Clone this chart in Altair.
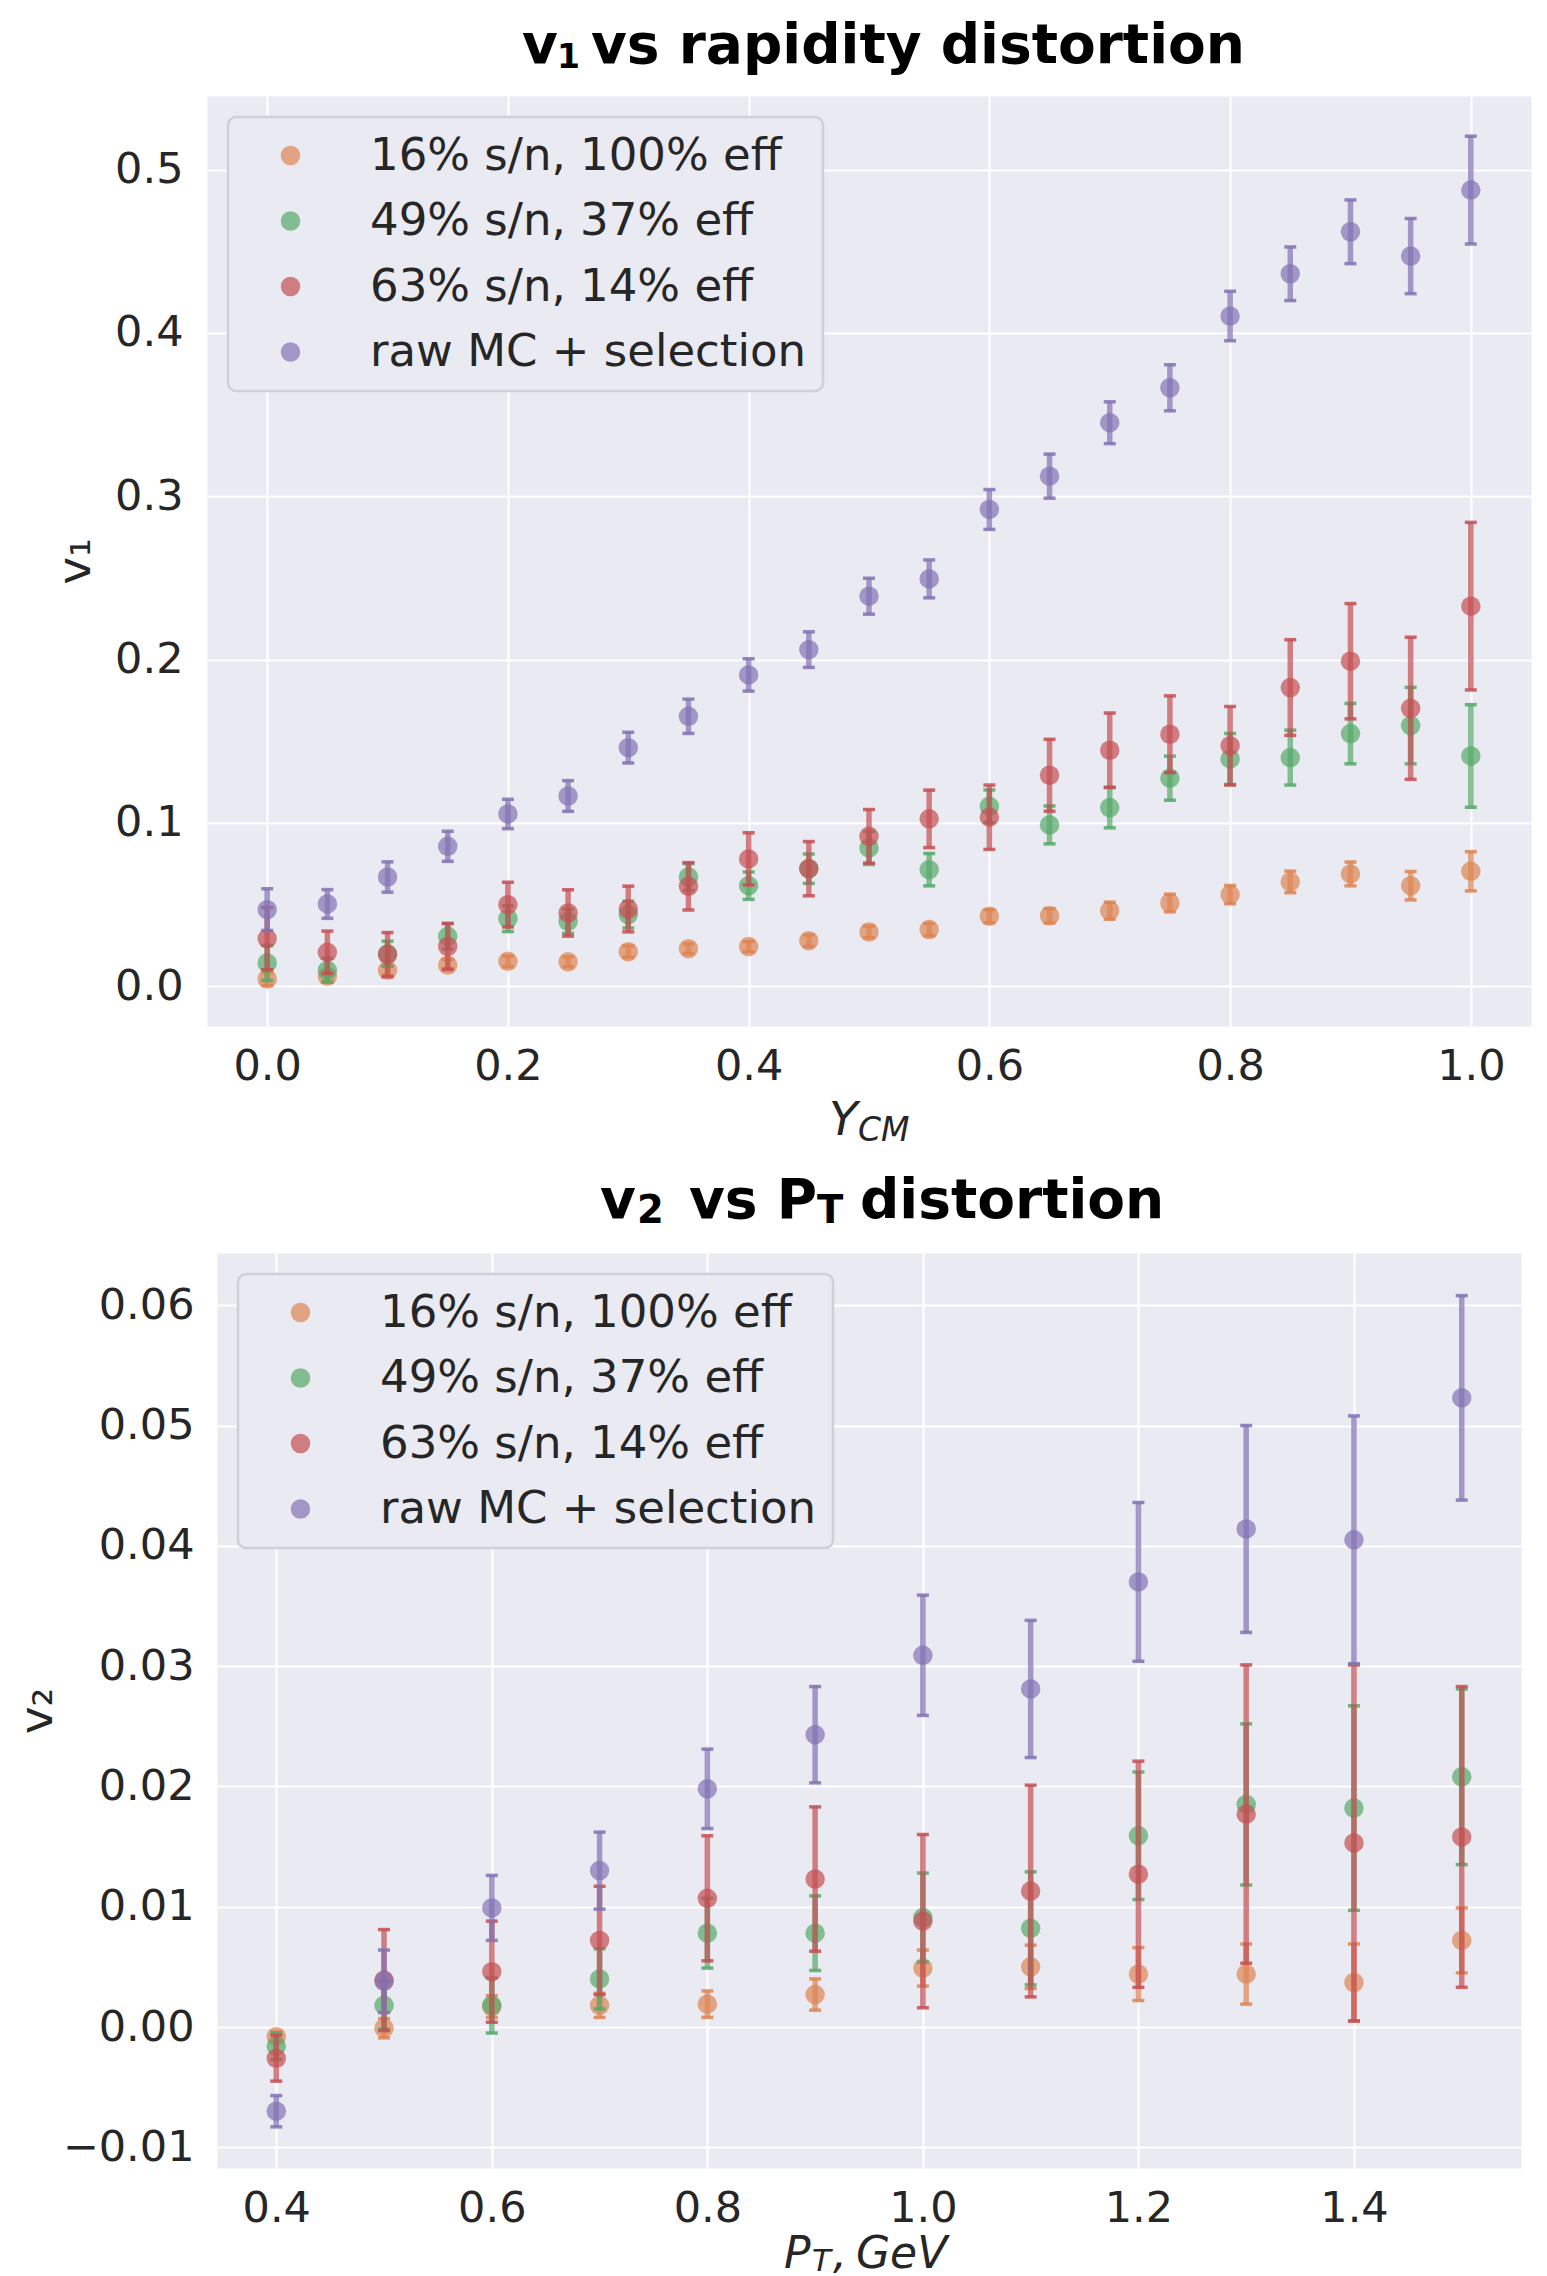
import altair as alt
import pandas as pd

labels = ["16% s/n, 100% eff", "49% s/n, 37% eff", "63% s/n, 14% eff", "raw MC + selection"]
colors = ["#DD8452", "#55A868", "#C44E52", "#8172B3"]

# ---- top panel: v1 vs rapidity ----
y_cm = [0.0, 0.05, 0.1, 0.15, 0.2, 0.25, 0.3, 0.35, 0.4, 0.45, 0.5,
        0.55, 0.6, 0.65, 0.7, 0.75, 0.8, 0.85, 0.9, 0.95, 1.0]
v1_orange = [0.0045, 0.0061, 0.0098, 0.0130, 0.0153, 0.0150, 0.0212, 0.0230, 0.0243, 0.0279, 0.0333,
             0.0347, 0.0429, 0.0432, 0.0463, 0.0510, 0.0561, 0.0639, 0.0688, 0.0616, 0.0704]
v1_orange_err = [0.0040, 0.0030, 0.0030, 0.0033, 0.0033, 0.0031, 0.0035, 0.0030, 0.0032, 0.0035, 0.0036,
                 0.0038, 0.0040, 0.0044, 0.0052, 0.0054, 0.0056, 0.0066, 0.0073, 0.0087, 0.0120]
v1_green = [0.0143, 0.0098, 0.0199, 0.0306, 0.0414, 0.0398, 0.0439, 0.0669, 0.0616, 0.0720, 0.0847,
            0.0714, 0.1102, 0.0988, 0.1094, 0.1274, 0.1392, 0.1400, 0.1547, 0.1596, 0.1410]
v1_green_err = [0.0107, 0.0073, 0.0077, 0.0078, 0.0079, 0.0074, 0.0082, 0.0082, 0.0084, 0.0090, 0.0101,
                0.0099, 0.0100, 0.0116, 0.0124, 0.0135, 0.0156, 0.0168, 0.0185, 0.0234, 0.0314]
v1_red = [0.0292, 0.0208, 0.0194, 0.0245, 0.0500, 0.0449, 0.0473, 0.0612, 0.0780, 0.0720, 0.0918,
          0.1025, 0.1035, 0.1292, 0.1445, 0.1543, 0.1473, 0.1829, 0.1990, 0.1702, 0.2327]
v1_red_err = [0.0190, 0.0130, 0.0135, 0.0140, 0.0137, 0.0142, 0.0140, 0.0145, 0.0160, 0.0166, 0.0164,
              0.0176, 0.0197, 0.0220, 0.0228, 0.0235, 0.0240, 0.0293, 0.0353, 0.0435, 0.0513]
v1_purple = [0.0469, 0.0504, 0.0669, 0.0857, 0.1055, 0.1165, 0.1461, 0.1653, 0.1906, 0.2061, 0.2388,
             0.2494, 0.2919, 0.3123, 0.3450, 0.3664, 0.4103, 0.4362, 0.4619, 0.4470, 0.4874]
v1_purple_err = [0.0128, 0.0088, 0.0093, 0.0092, 0.0090, 0.0094, 0.0094, 0.0105, 0.0099, 0.0109, 0.0110,
                 0.0116, 0.0122, 0.0135, 0.0128, 0.0141, 0.0152, 0.0164, 0.0195, 0.0230, 0.0330]

# ---- bottom panel: v2 vs pT ----
pt = [0.4, 0.5, 0.6, 0.7, 0.8, 0.9, 1.0, 1.1, 1.2, 1.3, 1.4, 1.5]
v2_orange = [-0.0008, -0.0001, 0.0017, 0.0018, 0.0019, 0.0027, 0.0049, 0.0050, 0.0044, 0.0044, 0.0037, 0.0072]
v2_orange_err = [0.0004, 0.0008, 0.0009, 0.0010, 0.0011, 0.0013, 0.0015, 0.0018, 0.0022, 0.0025, 0.0032, 0.0027]
v2_green = [-0.0016, 0.0018, 0.0018, 0.0040, 0.0078, 0.0078, 0.0091, 0.0082, 0.0159, 0.0185, 0.0182, 0.0208]
v2_green_err = [0.0011, 0.0020, 0.0023, 0.0025, 0.0029, 0.0031, 0.0037, 0.0047, 0.0053, 0.0067, 0.0085, 0.0073]
v2_red = [-0.0026, 0.0039, 0.0046, 0.0072, 0.0107, 0.0123, 0.0088, 0.0113, 0.0127, 0.0177, 0.0153, 0.0158]
v2_red_err = [0.0019, 0.0042, 0.0042, 0.0045, 0.0052, 0.0060, 0.0072, 0.0088, 0.0094, 0.0124, 0.0148, 0.0125]
v2_purple = [-0.0070, 0.0038, 0.0099, 0.0130, 0.0198, 0.0243, 0.0309, 0.0281, 0.0370, 0.0414, 0.0405, 0.0523]
v2_purple_err = [0.0013, 0.0026, 0.0027, 0.0032, 0.0033, 0.0040, 0.0050, 0.0057, 0.0066, 0.0086, 0.0103, 0.0085]

top_x_ticks = [0.0, 0.2, 0.4, 0.6, 0.8, 1.0]
top_y_ticks = [0.0, 0.1, 0.2, 0.3, 0.4, 0.5]
bot_x_ticks = [0.4, 0.6, 0.8, 1.0, 1.2, 1.4]
bot_y_ticks = [-0.01, 0.0, 0.01, 0.02, 0.03, 0.04, 0.05, 0.06]

TXT = "#262626"


def make_df(xs, vals, errs):
    rows = []
    for lab, col, v, e in zip(labels, colors, vals, errs):
        for x, y, d in zip(xs, v, e):
            rows.append(dict(x=x, y=y, lo=y - d, hi=y + d, series=lab, hex=col))
    return pd.DataFrame(rows)


def legend():
    return alt.Legend(
        title=None, orient="top-left", offset=21, padding=16,
        fillColor="#EAEAF2", strokeColor="#CFCFD6", cornerRadius=8,
        labelFont="DejaVu Sans", labelFontSize=45, labelColor=TXT, labelLimit=1000,
        labelOffset=57, symbolOffset=24, symbolType="circle", symbolSize=380,
        symbolOpacity=0.7, symbolStrokeWidth=0, rowPadding=19.5,
    )


def txt(s, x, y, size, weight="normal", style="normal", color=TXT):
    return alt.Chart(pd.DataFrame({"t": [s]})).mark_text(
        align="left", baseline="alphabetic", font="DejaVu Sans",
        fontSize=size, fontWeight=weight, fontStyle=style, color=color,
    ).encode(x=alt.value(x), y=alt.value(y), text="t:N")


def panel(df, xdom, ydom, xticks, yticks, yfmt, ytitle, ytitle_x, ylabpad, w, h, texts):
    xenc = alt.X("x:Q", scale=alt.Scale(domain=xdom, nice=False, zero=False),
                 axis=alt.Axis(values=xticks, format=".1f", title=None, labelPadding=19,
                               labelFlush=False))
    yaxis = alt.Axis(values=yticks, format=yfmt, title=ytitle, labelPadding=ylabpad,
                     titleX=ytitle_x, titleY=h / 2, titleAngle=270, titleBaseline="alphabetic",
                     titleAlign="center", titleFont="DejaVu Sans", titleFontSize=47,
                     titleFontWeight="normal", titleColor=TXT)
    yscale = alt.Scale(domain=ydom, nice=False, zero=False)
    base = alt.Chart(df)
    layers = []
    for lab in labels:
        b = base.transform_filter(alt.datum.series == lab)
        layers.append(b.mark_rule(strokeWidth=5.5, opacity=0.7).encode(
            x=xenc, y=alt.Y("lo:Q", scale=yscale, axis=yaxis), y2="hi:Q",
            color=alt.Color("hex:N", scale=None)))
        for fld in ["lo", "hi"]:
            layers.append(b.mark_tick(orient="horizontal", size=12, thickness=3.5, opacity=0.85).encode(
                x=xenc, y=alt.Y(f"{fld}:Q", scale=yscale, axis=yaxis),
                color=alt.Color("hex:N", scale=None)))
        layers.append(b.mark_circle(size=380, opacity=0.7).encode(
            x=xenc, y=alt.Y("y:Q", scale=yscale, axis=yaxis),
            color=alt.Color("series:N", scale=alt.Scale(domain=labels, range=colors), legend=legend())))
    layers.extend(texts)
    return alt.layer(*layers).properties(width=w, height=h)


df_top = make_df(y_cm, [v1_orange, v1_green, v1_red, v1_purple],
                 [v1_orange_err, v1_green_err, v1_red_err, v1_purple_err])
df_bot = make_df(pt, [v2_orange, v2_green, v2_red, v2_purple],
                 [v2_orange_err, v2_green_err, v2_red_err, v2_purple_err])

TW, TH = 1324, 930
BW, BH = 1304, 915
TF, SF = 55, 38.5

top_texts = [
    txt("v", 315, -33, TF, weight="bold", color="black"),
    txt("1", 350, -28, 33, weight="bold", color="black"),
    txt("vs rapidity distortion", 384, -33, TF, weight="bold", color="black"),
    txt("Y", 622, TH + 109, 47, style="italic"),
    txt("CM", 651, TH + 115, 33, style="italic"),
]
bot_texts = [
    txt("v", 383, -35, TF, weight="bold", color="black"),
    txt("2", 420, -30, SF, weight="bold", color="black"),
    txt("vs P", 472, -35, TF, weight="bold", color="black"),
    txt("T", 600, -30, SF, weight="bold", color="black"),
    txt("distortion", 643, -35, TF, weight="bold", color="black"),
    txt("P", 567, BH + 100, 44, style="italic"),
    txt("T", 595, BH + 103, 31, style="italic"),
    txt(",", 616, BH + 100, 44, style="italic"),
    txt("GeV", 639, BH + 100, 44, style="italic"),
]

top = panel(df_top, [-0.05, 1.05], [-0.0243, 0.545], top_x_ticks, top_y_ticks, ".1f",
            "v\u2081", -118, 24, TW, TH, top_texts)
bot = panel(df_bot, [0.345, 1.555], [-0.01172, 0.06434], bot_x_ticks, bot_y_ticks, ".2f",
            "v\u2082", -166, 23, BW, BH, bot_texts)

chart = alt.vconcat(top, bot, spacing=227, center=True, bounds="flush").resolve_legend(
    color="independent"
).properties(
    padding={"left": 4, "top": 10, "right": 5, "bottom": 0}, background="white"
).configure_view(fill="#EAEAF2", stroke="transparent").configure_axis(
    labelFont="DejaVu Sans", labelFontSize=43, labelColor=TXT,
    grid=True, gridColor="white", gridWidth=2, domain=False, ticks=False,
).configure_legend(strokeWidth=2.5)

chart.save("out.html", embed_options={"renderer": "svg", "actions": False})
